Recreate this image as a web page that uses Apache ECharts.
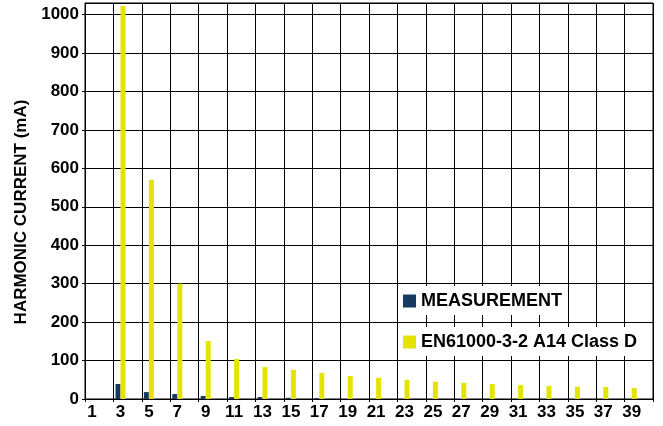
<!DOCTYPE html>
<html>
<head>
<meta charset="utf-8">
<script src="https://cdn.jsdelivr.net/npm/echarts@6/dist/echarts.min.js"></script>
<style>
html,body{margin:0;padding:0;background:#fff;}
#chart{width:663px;height:426px;}
</style>
</head>
<body>
<div id="chart"></div>
<script>
// Harmonic orders 1..40 (labels shown on odd orders)
const categories = [];
for (let i = 1; i <= 40; i++) categories.push(String(i));

// Odd harmonic orders and their values (mA)
const oddOrders = [1, 3, 5, 7, 9, 11, 13, 15, 17, 19, 21, 23, 25, 27, 29, 31, 33, 35, 37, 39];
const measurement = [null, 39, 18, 13, 8, 5, 5, 3, 2, 0, 0, 0, 0, 0, 0, 0, 0, 0, 0, 0];
const classDLimit = [null, 1022, 570, 300, 151, 104, 83, 76, 68, 60, 55, 50, 45, 42, 39, 36, 34, 32, 31, 29];

const yTicks = [0, 100, 200, 300, 400, 500, 600, 700, 800, 900, 1000];
const seriesNames = ['MEASUREMENT', 'EN61000-3-2 A14 Class D'];

function spread(vals) {
  const out = categories.map(() => null);
  oddOrders.forEach((o, i) => { out[o - 1] = vals[i]; });
  return out;
}

const FONT = '"Liberation Sans", Arial, Helvetica, sans-serif';
const chart = echarts.init(document.getElementById('chart'), null, {renderer: 'canvas'});

chart.setOption({
  animation: false,
  backgroundColor: '#fff',
  grid: {
    left: 85, right: 10, top: 3, bottom: 27,
    show: true, borderColor: '#000', borderWidth: 1, backgroundColor: 'transparent'
  },
  xAxis: {
    type: 'category',
    data: categories,
    boundaryGap: true,
    axisLine: {lineStyle: {color: '#000', width: 1}},
    axisTick: {show: true, interval: 1, length: 3, lineStyle: {color: '#000'}},
    axisLabel: {interval: 1, margin: 5, color: '#000', fontFamily: FONT, fontWeight: 'bold', fontSize: 17},
    splitLine: {show: true, interval: 1, lineStyle: {color: '#000', width: 1}}
  },
  yAxis: {
    type: 'value',
    min: 0, max: 1030, interval: 100,
    axisLine: {show: true, lineStyle: {color: '#000', width: 1}},
    axisTick: {show: true, length: 3, lineStyle: {color: '#000'}},
    axisLabel: {
      showMaxLabel: false, margin: 6, color: '#000', fontFamily: FONT, fontWeight: 'bold', fontSize: 17,
      formatter: v => (yTicks.indexOf(v) >= 0 ? String(v) : '')
    },
    splitLine: {show: true, lineStyle: {color: '#000', width: 1}}
  },
  legend: [
    {
      data: [seriesNames[0]],
      left: 399, top: 286,
      orient: 'vertical',
      backgroundColor: '#fff',
      padding: [6, 2, 5, 4],
      itemWidth: 13, itemHeight: 13,
      icon: 'rect',
      textStyle: {color: '#000', fontFamily: FONT, fontWeight: 'bold', fontSize: 18}
    },
    {
      data: [seriesNames[1]],
      left: 399, top: 327,
      orient: 'vertical',
      backgroundColor: '#fff',
      padding: [6, 2, 5, 4],
      itemWidth: 13, itemHeight: 13,
      icon: 'rect',
      textStyle: {color: '#000', fontFamily: FONT, fontWeight: 'bold', fontSize: 18}
    }
  ],
  graphic: [{
    type: 'text',
    x: 21, y: 212,
    rotation: Math.PI / 2,
    style: {
      text: 'HARMONIC CURRENT (mA)',
      fill: '#000',
      font: 'bold 17px ' + FONT,
      textAlign: 'center',
      textVerticalAlign: 'middle'
    }
  }],
  series: [
    {
      name: seriesNames[0],
      type: 'bar',
      data: spread(measurement),
      barWidth: 5,
      barGap: '0%',
      itemStyle: {color: '#173a63'}
    },
    {
      name: seriesNames[1],
      type: 'bar',
      data: spread(classDLimit),
      barWidth: 5,
      barGap: '0%',
      itemStyle: {color: '#e5e400'}
    }
  ]
});
</script>
</body>
</html>
